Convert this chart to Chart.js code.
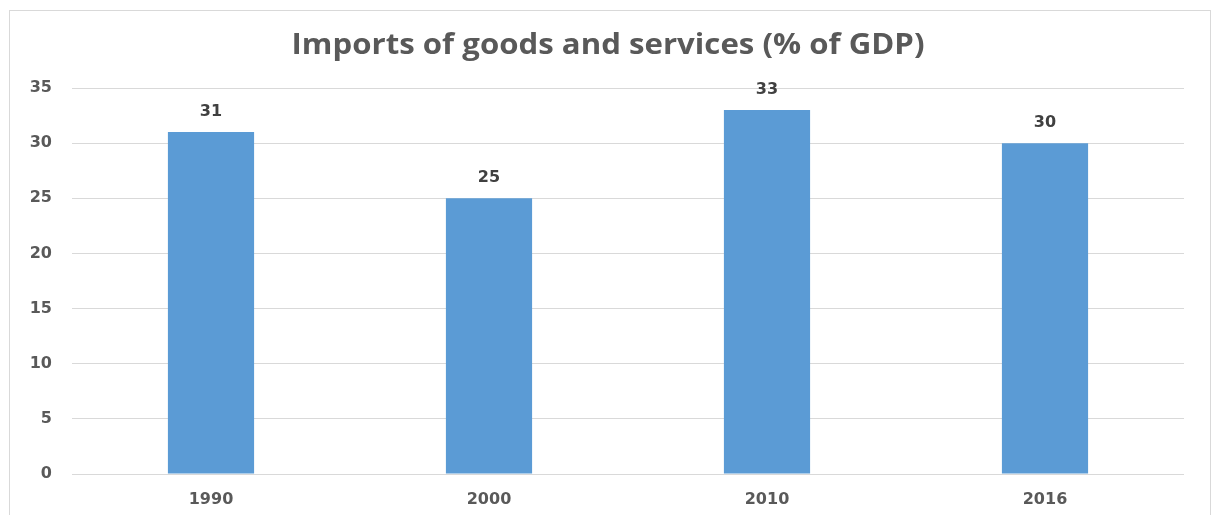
<!DOCTYPE html>
<html>
<head>
<meta charset="utf-8">
<script src="https://cdn.jsdelivr.net/npm/chart.js@4/dist/chart.umd.min.js"></script>
<style>
  html, body { margin: 0; padding: 0; background: #fff; overflow: hidden; }
  #wrap { position: absolute; left: 0; top: 0; width: 1218px; height: 515px; }
  #frame { position: absolute; left: 9px; top: 10px; width: 1202px; height: 520px;
           border: 1px solid #d9d9d9; border-bottom: none; box-sizing: border-box; }
  canvas { position: absolute; left: 0; top: 0; }
</style>
</head>
<body>
<div id="wrap">
  <div id="frame"></div>
  <canvas id="chart" width="1218" height="515"></canvas>
</div>
<script>
const years = ['1990', '2000', '2010', '2016'];
const importsPct = [31, 25, 33, 30];
const yTicks = [0, 5, 10, 15, 20, 25, 30, 35];
const chartTitle = 'Imports of goods and services (% of GDP)';

const textGrey = '#595959';
const labelFont = { family: "'DejaVu Sans', sans-serif", size: 16, weight: 'bold' };

// wide, bold heading centred over the plot
const wideTitle = {
  id: 'wideTitle',
  afterDraw(chart) {
    const ctx = chart.ctx;
    ctx.save();
    ctx.font = 'bold 29px "Open Sans", sans-serif';
    ctx.fillStyle = textGrey;
    ctx.textAlign = 'center';
    ctx.textBaseline = 'alphabetic';
    const w = ctx.measureText(chartTitle).width;
    const sx = 633 / w;
    ctx.translate(608, 54);
    ctx.scale(sx, 1);
    ctx.fillText(chartTitle, 0, 0);
    ctx.restore();
  }
};

// draws the value above each bar
const valueLabels = {
  id: 'valueLabels',
  afterDatasetsDraw(chart) {
    const ctx = chart.ctx;
    const meta = chart.getDatasetMeta(0);
    ctx.save();
    ctx.font = 'bold 16px "DejaVu Sans", sans-serif';
    ctx.fillStyle = '#404040';
    ctx.textAlign = 'center';
    ctx.textBaseline = 'middle';
    meta.data.forEach((bar, i) => {
      ctx.fillText(String(importsPct[i]), bar.x, bar.y - 20);
    });
    ctx.restore();
  }
};

new Chart(document.getElementById('chart'), {
  type: 'bar',
  data: {
    labels: years,
    datasets: [{
      data: importsPct,
      backgroundColor: '#5b9bd5',
      borderWidth: 0,
      barPercentage: 0.31,
      categoryPercentage: 1
    }]
  },
  options: {
    responsive: false,
    animation: false,
    layout: { padding: { top: 88, right: 34, bottom: 0, left: 0 } },
    plugins: {
      legend: { display: false },
      tooltip: { enabled: false },
      title: { display: false }
    },
    scales: {
      x: {
        grid: { display: false, drawTicks: false },
        border: { display: false },
        ticks: { color: textGrey, font: labelFont, padding: 16 },
        afterFit(scale) { scale.height = 41; }
      },
      y: {
        min: 0,
        max: 35,
        afterBuildTicks(scale) { scale.ticks = yTicks.map(v => ({ value: v })); },
        grid: { color: '#d9d9d9', drawTicks: false, lineWidth: 1 },
        border: { display: false },
        ticks: { color: textGrey, font: labelFont, padding: 20 },
        afterFit(scale) { scale.width = 72; }
      }
    }
  },
  plugins: [valueLabels, wideTitle]
});
</script>
</body>
</html>
